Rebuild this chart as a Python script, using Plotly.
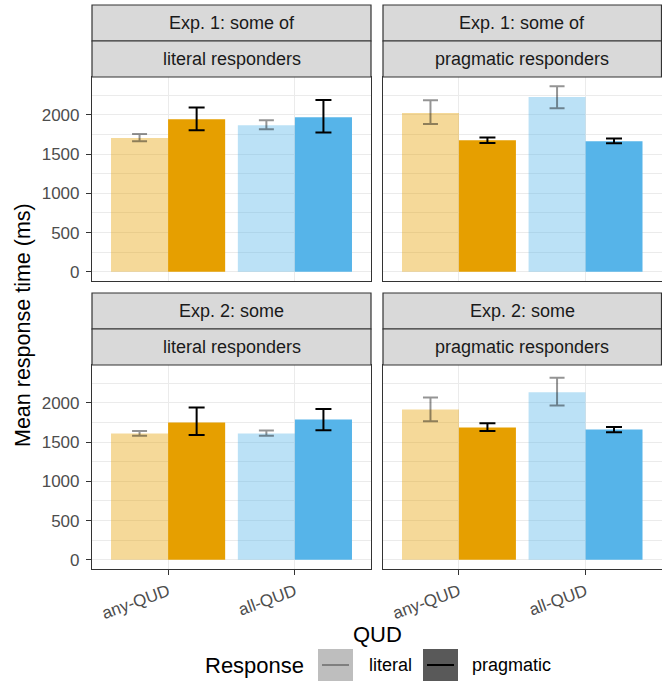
import plotly.graph_objects as go

# ---------------- data ----------------
quds = ["any-QUD", "all-QUD"]
strip_top = ["Exp. 1: some of", "Exp. 1: some of", "Exp. 2: some", "Exp. 2: some"]
strip_bottom = ["literal responders", "pragmatic responders",
                "literal responders", "pragmatic responders"]

literal_mean = [[1705, 1870], [2025, 2230], [1610, 1610], [1915, 2135]]
literal_low = [[1665, 1818], [1886, 2085], [1583, 1583], [1767, 1967]]
literal_high = [[1758, 1932], [2187, 2366], [1643, 1647], [2069, 2320]]

pragmatic_mean = [[1945, 1972], [1678, 1665], [1750, 1788], [1686, 1660]]
pragmatic_low = [[1805, 1776], [1643, 1640], [1592, 1651], [1643, 1626]]
pragmatic_high = [[2094, 2191], [1712, 1699], [1941, 1924], [1741, 1694]]

y_ticks = [0, 500, 1000, 1500, 2000]

# ---------------- styling / layout constants ----------------
W, H = 662, 681
FONT = "Liberation Sans, Arial, Helvetica, sans-serif"
ORANGE = "#E69F00"
BLUE = "#56B4E9"
ORANGE_LIGHT = "rgba(230,159,0,0.4)"
BLUE_LIGHT = "rgba(86,180,233,0.4)"
BORDER = "#333333"
GRID = "#EBEBEB"
STRIP_FILL = "#D9D9D9"

cols_px = [(92, 371), (383, 661.5)]
rows_px = [(77, 281), (365, 569)]
strips_px = [[(5, 41), (41, 77)], [(293, 329), (329, 365)]]


def fx(p):
    return p / W


def fy(p):
    return 1 - p / H


fig = go.Figure()
layout = dict(
    width=W, height=H,
    margin=dict(l=0, r=0, t=0, b=0),
    paper_bgcolor="white", plot_bgcolor="white",
    barmode="group", bargap=0.1, bargroupgap=0,
    showlegend=False,
    font=dict(family=FONT, color="#4D4D4D"),
)
shapes = []
annotations = []

for i in range(4):
    r, c = divmod(i, 2)
    xa = "x" if i == 0 else f"x{i + 1}"
    ya = "y" if i == 0 else f"y{i + 1}"
    lit_colors = [ORANGE_LIGHT, BLUE_LIGHT]
    prag_colors = [ORANGE, BLUE]

    fig.add_trace(go.Bar(
        x=quds, y=literal_mean[i], xaxis=xa, yaxis=ya,
        marker=dict(color=lit_colors, line=dict(width=0)),
        offsetgroup="lit", name="literal",
        error_y=dict(type="data", symmetric=False,
                     array=[h - m for h, m in zip(literal_high[i], literal_mean[i])],
                     arrayminus=[m - l for l, m in zip(literal_low[i], literal_mean[i])],
                     color="rgba(0,0,0,0.42)", thickness=2, width=7.5),
    ))
    fig.add_trace(go.Bar(
        x=quds, y=pragmatic_mean[i], xaxis=xa, yaxis=ya,
        marker=dict(color=prag_colors, line=dict(width=0)),
        offsetgroup="prag", name="pragmatic",
        error_y=dict(type="data", symmetric=False,
                     array=[h - m for h, m in zip(pragmatic_high[i], pragmatic_mean[i])],
                     arrayminus=[m - l for l, m in zip(pragmatic_low[i], pragmatic_mean[i])],
                     color="black", thickness=2, width=8),
    ))

    x0, x1 = cols_px[c]
    y0, y1 = rows_px[r]
    bottom = r == 1
    left = c == 0
    layout["xaxis" if i == 0 else f"xaxis{i + 1}"] = dict(
        domain=[fx(x0), fx(x1)], anchor=ya, type="category",
        range=[-0.6, 1.6], fixedrange=True,
        showgrid=True, gridcolor=GRID, gridwidth=1.1,
        showline=True, mirror=True, linecolor=BORDER, linewidth=1.2,
        ticks="outside" if bottom else "", ticklen=5, tickcolor=BORDER, tickwidth=1.1,
        showticklabels=bottom, tickangle=-20, ticklabelstandoff=0,
        tickfont=dict(size=17, color="#4D4D4D", family=FONT),
        zeroline=False, automargin=False,
    )
    layout["yaxis" if i == 0 else f"yaxis{i + 1}"] = dict(
        domain=[fy(y1), fy(y0)], anchor=xa,
        range=[-118, 2484], fixedrange=True,
        tickvals=y_ticks, ticktext=[str(v) for v in y_ticks],
        showgrid=True, gridcolor=GRID, gridwidth=1.1,
        minor=dict(dtick=250, tick0=0, showgrid=True, gridcolor=GRID, gridwidth=0.6, ticks=""),
        showline=True, mirror=True, linecolor=BORDER, linewidth=1.2,
        ticks="outside" if left else "", ticklen=5, tickcolor=BORDER, tickwidth=1.1,
        showticklabels=left, ticklabelstandoff=3,
        tickfont=dict(size=17, color="#4D4D4D", family=FONT),
        zeroline=False, automargin=False,
    )

    # strips
    for k, label in enumerate([strip_top[i], strip_bottom[i]]):
        s0, s1 = strips_px[r][k]
        shapes.append(dict(type="rect", xref="paper", yref="paper",
                           x0=fx(x0), x1=fx(x1), y0=fy(s1), y1=fy(s0),
                           fillcolor=STRIP_FILL, line=dict(color=BORDER, width=1.2)))
        annotations.append(dict(xref="paper", yref="paper",
                                x=fx((x0 + x1) / 2), y=fy((s0 + s1) / 2),
                                text=label, showarrow=False,
                                xanchor="center", yanchor="middle",
                                font=dict(size=18, color="#1A1A1A", family=FONT)))

# axis titles
annotations.append(dict(xref="paper", yref="paper", x=fx(23), y=fy(325),
                        text="Mean response time (ms)", textangle=-90, showarrow=False,
                        xanchor="center", yanchor="middle",
                        font=dict(size=21.5, color="black", family=FONT)))
annotations.append(dict(xref="paper", yref="paper", x=fx(377), y=fy(634),
                        text="QUD", showarrow=False, xanchor="center", yanchor="middle",
                        font=dict(size=22, color="black", family=FONT)))

# legend (drawn manually, ggplot style)
annotations.append(dict(xref="paper", yref="paper", x=fx(203), y=fy(665),
                        text="Response", showarrow=False, xanchor="left", yanchor="middle",
                        font=dict(size=22, color="black", family=FONT)))
legend_items = [("literal", 318, "#BEBEBE", "#7F7F7F", 367),
                ("pragmatic", 423, "#595959", "black", 470)]
for label, kx, fill, lc, tx in legend_items:
    shapes.append(dict(type="rect", xref="paper", yref="paper",
                       x0=fx(kx), x1=fx(kx + 35), y0=fy(681), y1=fy(649),
                       fillcolor=fill, line=dict(width=0)))
    shapes.append(dict(type="line", xref="paper", yref="paper",
                       x0=fx(kx + 4), x1=fx(kx + 31), y0=fy(665), y1=fy(665),
                       line=dict(color=lc, width=2)))
    annotations.append(dict(xref="paper", yref="paper", x=fx(tx), y=fy(665),
                            text=label, showarrow=False, xanchor="left", yanchor="middle",
                            font=dict(size=18, color="black", family=FONT)))

layout["shapes"] = shapes
layout["annotations"] = annotations
fig.update_layout(**layout)
fig.write_html(
    "out.html",
    config={"displayModeBar": False},
    post_script="document.body.style.margin='0';document.body.style.overflow='hidden';",
)
